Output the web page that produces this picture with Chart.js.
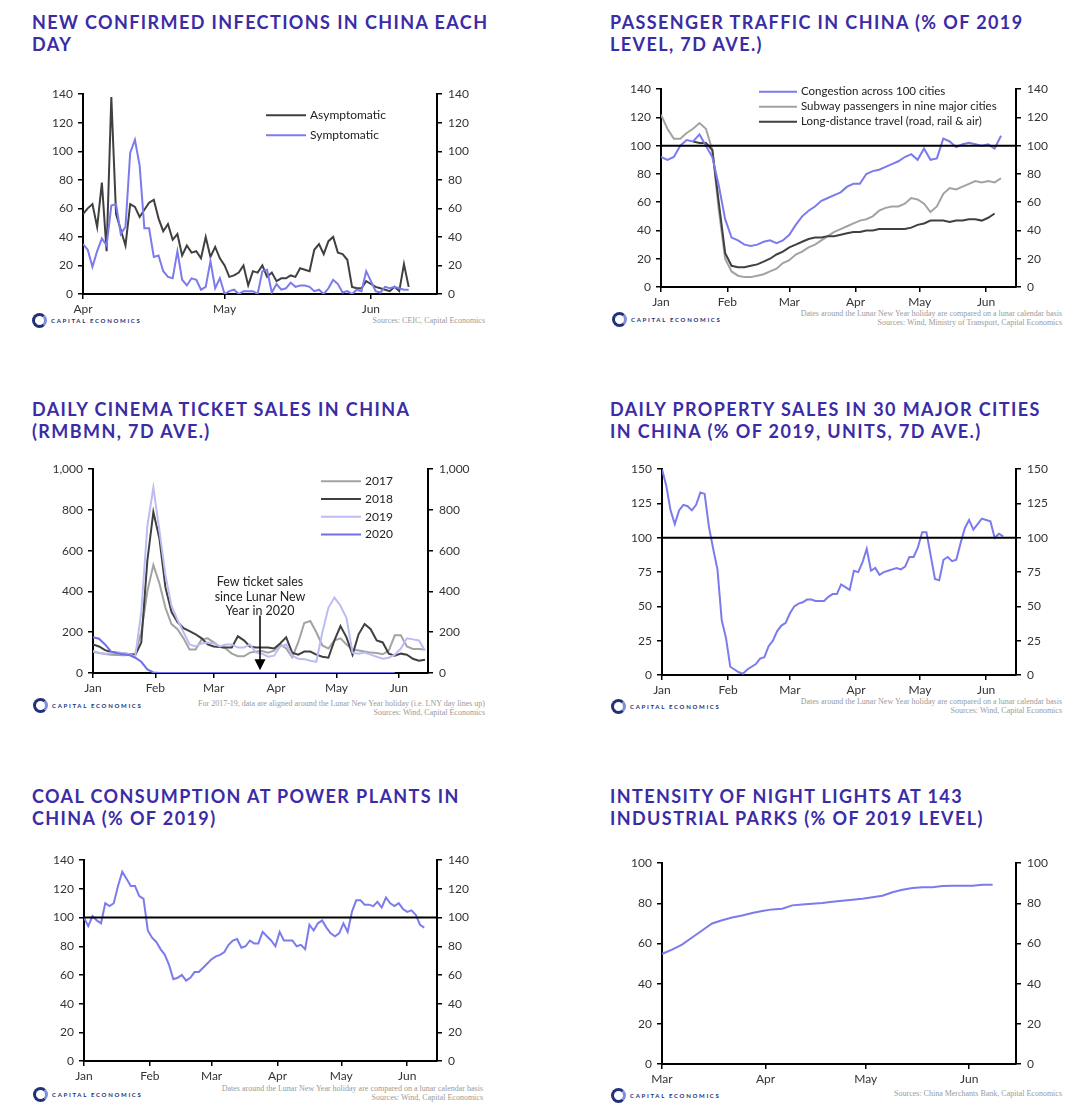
<!DOCTYPE html>
<html>
<head>
<meta charset="utf-8">
<script src="https://cdn.jsdelivr.net/npm/chart.js@4.4.1/dist/chart.umd.min.js"></script>
<style>
  body { margin: 0; background: #fff; }
  #page { position: relative; width: 1074px; height: 1117px; overflow: hidden; font-family: Lato, sans-serif; }
  .title { position: absolute; font-family: Lato, sans-serif; font-weight: 700; font-size: 18px; line-height: 22px;
           letter-spacing: 1.4px; color: #3a2ca6; white-space: nowrap; }
  .note { position: absolute; font-family: "Liberation Serif", serif; font-size: 8px; line-height: 9px;
          color: #9a9a9a; text-align: right; white-space: nowrap; }
  .logo { position: absolute; display: flex; align-items: center; height: 16px; }
  .ring { width: 9px; height: 9px; border: 3px solid #22307a; border-right-color: #7f8fd8; border-radius: 50%; }
  .logo span.txt { font-size: 6px; font-weight: 700; letter-spacing: 1.7px; color: #22307a; margin-left: 4px; }
  canvas { position: absolute; }
</style>
</head>
<body>
<div id="page">
  <div class="title" style="left:32px;top:11px">NEW CONFIRMED INFECTIONS IN CHINA EACH<br>DAY</div>
  <div class="title" style="left:610px;top:11px">PASSENGER TRAFFIC IN CHINA (% OF 2019<br>LEVEL, 7D AVE.)</div>
  <div class="title" style="left:32px;top:398px">DAILY CINEMA TICKET SALES IN CHINA<br>(RMBMN, 7D AVE.)</div>
  <div class="title" style="left:610px;top:398px">DAILY PROPERTY SALES IN 30 MAJOR CITIES<br>IN CHINA (% OF 2019, UNITS, 7D AVE.)</div>
  <div class="title" style="left:32px;top:785px">COAL CONSUMPTION AT POWER PLANTS IN<br>CHINA (% OF 2019)</div>
  <div class="title" style="left:610px;top:785px">INTENSITY OF NIGHT LIGHTS AT 143<br>INDUSTRIAL PARKS (% OF 2019 LEVEL)</div>

  <div class="logo" style="left:32px;top:312px"><div class="ring"></div><span class="txt">CAPITAL ECONOMICS</span></div>
  <div class="logo" style="left:612px;top:311px"><div class="ring"></div><span class="txt">CAPITAL ECONOMICS</span></div>
  <div class="logo" style="left:33px;top:697px"><div class="ring"></div><span class="txt">CAPITAL ECONOMICS</span></div>
  <div class="logo" style="left:611px;top:698px"><div class="ring"></div><span class="txt">CAPITAL ECONOMICS</span></div>
  <div class="logo" style="left:33px;top:1086px"><div class="ring"></div><span class="txt">CAPITAL ECONOMICS</span></div>
  <div class="logo" style="left:611px;top:1087px"><div class="ring"></div><span class="txt">CAPITAL ECONOMICS</span></div>

  <div class="note" style="right:589px;top:316px">Sources: CEIC, Capital Economics</div>
  <div class="note" style="right:12px;top:309px">Dates around the Lunar New Year holiday are compared on a lunar calendar basis<br>Sources: Wind, Ministry of Transport, Capital Economics</div>
  <div class="note" style="right:589px;top:699px">For 2017-19, data are aligned around the Lunar New Year holiday (i.e. LNY day lines up)<br>Sources: Wind, Capital Economics</div>
  <div class="note" style="right:12px;top:697px">Dates around the Lunar New Year holiday are compared on a lunar calendar basis<br>Sources: Wind, Capital Economics</div>
  <div class="note" style="right:591px;top:1084px">Dates around the Lunar New Year holiday are compared on a lunar calendar basis<br>Sources: Wind, Capital Economics</div>
  <div class="note" style="right:12px;top:1089px">Sources: China Merchants Bank, Capital Economics</div>
</div>

<script>
// ---- data ----
// month tick positions (days from first month shown)
const aprMonthStarts = [0, 30, 61];
const aprMonthLabels = ["Apr", "May", "Jun"];
const janMonthStarts = [0, 31, 60, 91, 121, 152];
const janMonthLabels = ["Jan", "Feb", "Mar", "Apr", "May", "Jun"];
const marMonthStarts = [0, 31, 61, 92];
const marMonthLabels = ["Mar", "Apr", "May", "Jun"];

// 1. new infections, daily from 1 Apr
const asymptomatic = [56,60,63,47,78,30,138,56,45,34,63,61,54,59,64,66,53,44,49,38,42,27,34,29,30,25,40,26,33,25,
  20,12,13,15,20,6,16,15,20,12,15,9,11,11,13,12,18,17,16,31,35,28,37,40,29,28,24,5,4,4,9,7,5,4,3,2,5,2,21,5];
const symptomatic = [35,31,19,30,39,34,62,63,42,47,99,108,90,46,46,26,27,16,12,11,30,10,6,11,10,3,5,23,4,11,
  0,2,3,0,2,2,2,0,16,17,1,7,3,4,8,5,6,6,5,2,3,0,4,10,7,1,2,0,3,2,16,9,2,1,5,4,5,4,3,3];

// 2. passenger traffic, every 3 days from 1 Jan
const congestion = [92,90,92,100,104,103,108,100,92,72,48,35,33,30,29,30,32,33,31,33,37,44,50,54,57,61,63,65,67,71,
  73,73,80,82,83,85,87,89,92,94,90,98,90,91,105,103,99,101,102,101,100,101,98,107];
const subway = [122,112,105,105,109,112,116,112,97,55,20,11,8,7,7,8,9,11,13,17,19,23,25,28,30,33,36,39,41,43,
  45,47,48,50,54,56,57,57,59,63,62,59,53,57,66,70,69,71,73,75,74,75,74,77];
const longDistance = [null,null,null,null,null,103,102,102,97,60,24,15,14,14,15,16,18,20,23,25,28,30,32,34,35,35,36,36,37,38,
  39,39,40,40,41,41,41,41,41,42,44,45,47,47,47,46,47,47,48,48,47,49,52,null];

// 3. cinema ticket sales, every 3 days from 1 Jan
const cinema2017 = [105,98,93,90,88,87,88,95,200,400,530,440,320,240,215,170,115,115,165,170,150,130,120,95,82,82,100,105,108,100,
  110,140,120,78,150,245,255,200,135,120,160,170,140,115,110,105,100,98,92,110,185,185,130,118,118,115];
const cinema2018 = [140,130,112,103,100,97,92,88,150,550,790,660,420,300,250,220,205,190,170,140,130,128,125,125,180,160,130,125,125,125,
  120,145,175,100,90,105,105,90,80,75,160,230,175,90,190,240,215,160,150,95,85,95,90,70,60,65];
const cinema2019 = [108,100,95,98,100,98,92,80,300,720,910,700,480,330,260,200,140,130,145,150,145,130,140,140,125,125,140,100,95,80,
  85,130,140,85,70,68,60,55,200,320,370,330,270,100,95,100,90,80,70,75,90,120,170,165,160,110];
const cinema2020 = [175,168,140,105,97,92,88,75,55,18,3,0,0,0,0,0,0,0,0,0,0,0,0,0,0,0,0,0,0,0,
  0,0,0,0,0,0,0,0,0,0,0,0,0,0,0,0,0,0,0,0,0];

// 4. property sales, every 2 days from 1 Jan
const propertySales = [150,138,120,110,120,124,123,120,124,133,132,108,92,77,40,27,6,4,2,1,4,6,8,12,13,21,25,32,36,38,
  45,50,52,53,55,55,54,54,54,57,59,59,66,64,62,76,75,82,92,76,78,73,75,76,77,78,77,79,86,86,
  93,104,104,87,70,69,84,86,83,84,96,107,113,106,110,114,113,112,100,103,101];

// 5. coal consumption, every 2 days from 1 Jan
const coalUse = [100,94,101,98,96,110,108,110,122,132,127,122,122,115,113,91,86,83,78,74,67,57,58,60,56,58,62,62,65,68,
  71,73,74,76,81,84,85,79,80,84,82,82,90,87,84,80,90,84,84,84,80,81,78,95,91,96,98,93,89,87,
  89,96,90,104,112,112,109,109,108,111,107,114,110,108,110,106,104,105,102,95,93];

// 6. night lights, every 3 days from 1 Mar
const nightLights = [54.8,57,59.5,63,66.5,70,71.6,73,74,75.2,76.2,77,77.3,79,79.4,79.8,80.2,80.8,81.3,81.8,
  82.3,83,83.8,85.5,86.8,87.6,88,88,88.7,88.8,88.8,88.8,89.3,89.3];

// ---- colours ----
const BLUE = "#7b7bee";
const DARK = "#404040";
const GREY = "#a3a3a3";
const LAVENDER = "#bcbcf5";

Chart.defaults.font.family = "Lato, sans-serif";
Chart.defaults.animation = false;

function series(values, step) {
  return values.map((v, i) => ({ x: i * step, y: v }));
}

// draws a flat line at a given value across the plot
const refLine = {
  id: "refLine",
  afterDatasetsDraw(chart, args, opts) {
    if (opts.value === undefined) return;
    const { ctx, chartArea } = chart;
    const y = chart.scales.y.getPixelForValue(opts.value);
    ctx.save();
    ctx.strokeStyle = "#000";
    ctx.lineWidth = 2;
    ctx.beginPath();
    ctx.moveTo(chartArea.left, y);
    ctx.lineTo(chartArea.right, y);
    ctx.stroke();
    ctx.restore();
  }
};

// legend drawn inside the plot area
const innerLegend = {
  id: "innerLegend",
  afterDraw(chart, args, opts) {
    if (!opts.show) return;
    const { ctx, chartArea } = chart;
    ctx.save();
    ctx.font = opts.font;
    ctx.textBaseline = "middle";
    chart.data.datasets.forEach((ds, i) => {
      const x = chartArea.left + opts.x;
      const y = chartArea.top + opts.y + i * opts.gap;
      ctx.strokeStyle = ds.borderColor;
      ctx.lineWidth = 2;
      ctx.beginPath();
      ctx.moveTo(x, y);
      ctx.lineTo(x + opts.len, y);
      ctx.stroke();
      ctx.fillStyle = "#222";
      ctx.fillText(ds.label, x + opts.len + 4, y);
    });
    ctx.restore();
  }
};

// text with a down arrow (cinema chart)
const arrowNote = {
  id: "arrowNote",
  afterDraw(chart, args, opts) {
    if (!opts.lines) return;
    const { ctx } = chart;
    const x = chart.scales.x.getPixelForValue(opts.x);
    const yTop = chart.scales.y.getPixelForValue(opts.from);
    const yTip = chart.scales.y.getPixelForValue(opts.to);
    ctx.save();
    ctx.font = "12.5px Lato, sans-serif";
    ctx.fillStyle = "#222";
    ctx.textAlign = "center";
    ctx.textBaseline = "middle";
    opts.lines.forEach((t, i) => ctx.fillText(t, x, chart.scales.y.getPixelForValue(opts.textAt[i])));
    ctx.strokeStyle = "#000";
    ctx.lineWidth = 1.5;
    ctx.beginPath();
    ctx.moveTo(x, yTop);
    ctx.lineTo(x, yTip - 8);
    ctx.stroke();
    ctx.fillStyle = "#000";
    ctx.beginPath();
    ctx.moveTo(x - 5.5, yTip - 11);
    ctx.lineTo(x + 5.5, yTip - 11);
    ctx.lineTo(x, yTip);
    ctx.closePath();
    ctx.fill();
    ctx.restore();
  }
};

Chart.register(refLine, innerLegend, arrowNote);

function yAxis(position, max, step, pad) {
  return {
    position: position,
    min: 0,
    max: max,
    ticks: {
      stepSize: step,
      color: "#333",
      font: { size: 12 },
      padding: pad,
      callback: (v) => v.toLocaleString("en-US")
    },
    grid: { drawOnChartArea: false, drawTicks: true, tickLength: 5, color: "#000", lineWidth: 1.5 },
    border: { display: true, color: "#000", width: 2 },
    afterFit: (scale) => { scale.width = 50; }
  };
}

function makePanel(area, xMax, months, monthLabels, yMax, yStep, datasets, plugins) {
  const padL = 50, padR = 50, padT = 12, padB = 26;
  const canvas = document.createElement("canvas");
  const w = area.r - area.l + padL + padR;
  const h = area.b - area.t + padT + padB;
  canvas.width = w;
  canvas.height = h;
  canvas.style.left = (area.l - padL) + "px";
  canvas.style.top = (area.t - padT) + "px";
  canvas.style.width = w + "px";
  canvas.style.height = h + "px";
  document.getElementById("page").appendChild(canvas);

  new Chart(canvas.getContext("2d"), {
    type: "line",
    data: { datasets: datasets },
    options: {
      responsive: false,
      devicePixelRatio: 1,
      layout: { padding: { top: padT, left: 0, right: 0, bottom: 0 } },
      elements: { point: { radius: 0 }, line: { borderWidth: 2, tension: 0 } },
      scales: {
        x: {
          type: "linear",
          min: 0,
          max: xMax,
          afterBuildTicks: (scale) => { scale.ticks = months.map((v) => ({ value: v })); },
          ticks: {
            autoSkip: false,
            maxRotation: 0,
            color: "#333",
            font: { size: 12 },
            padding: 3,
            callback: (v, i) => monthLabels[i]
          },
          grid: { drawOnChartArea: false, drawTicks: true, tickLength: 5, color: "#000", lineWidth: 1.5 },
          border: { display: true, color: "#000", width: 2 },
          afterFit: (scale) => { scale.height = padB; }
        },
        y: yAxis("left", yMax, yStep, 5),
        yR: yAxis("right", yMax, yStep, 6)
      },
      plugins: Object.assign({ legend: { display: false }, tooltip: { enabled: false } }, plugins)
    }
  });
}

function line(label, data, color, order) {
  return { label: label, data: data, borderColor: color, backgroundColor: color, fill: false, order: order, spanGaps: false };
}

// 1. infections
makePanel({ l: 83, t: 93, r: 437, b: 294 }, 75, aprMonthStarts, aprMonthLabels, 140, 20, [
  line("Asymptomatic", series(asymptomatic, 1), DARK, 2),
  line("Symptomatic", series(symptomatic, 1), BLUE, 1)
], { innerLegend: { show: true, x: 183, y: 21, gap: 20, len: 40, font: "12px Lato, sans-serif" } });

// 2. passenger traffic
makePanel({ l: 661, t: 88, r: 1016, b: 287 }, 166, janMonthStarts, janMonthLabels, 140, 20, [
  line("Congestion across 100 cities", series(congestion, 3), BLUE, 1),
  line("Subway passengers in nine major cities", series(subway, 3), GREY, 3),
  line("Long-distance travel (road, rail & air)", series(longDistance, 3), DARK, 2)
], { refLine: { value: 100 }, innerLegend: { show: true, x: 98, y: 2.5, gap: 15, len: 38, font: "11.5px Lato, sans-serif" } });

// 3. cinema tickets
makePanel({ l: 93, t: 468, r: 428, b: 673 }, 166.5, janMonthStarts, janMonthLabels, 1000, 200, [
  line("2017", series(cinema2017, 3), GREY, 4),
  line("2018", series(cinema2018, 3), DARK, 3),
  line("2019", series(cinema2019, 3), LAVENDER, 2),
  line("2020", series(cinema2020, 3), "#6f6fe8", 1)
], {
  innerLegend: { show: true, x: 228, y: 12, gap: 17.8, len: 40, font: "12px Lato, sans-serif" },
  arrowNote: { x: 83, lines: ["Few ticket sales", "since Lunar New", "Year in 2020"], textAt: [445, 372, 302], from: 282, to: 14 }
});

// 4. property sales
makePanel({ l: 662, t: 468, r: 1016, b: 675 }, 166, janMonthStarts, janMonthLabels, 150, 25, [
  line("Property sales", series(propertySales, 2), BLUE, 1)
], { refLine: { value: 100 } });

// 5. coal
makePanel({ l: 84, t: 859, r: 437, b: 1061 }, 166, janMonthStarts, janMonthLabels, 140, 20, [
  line("Coal consumption", series(coalUse, 2), BLUE, 1)
], { refLine: { value: 100 } });

// 6. night lights
makePanel({ l: 662, t: 862, r: 1016, b: 1064 }, 106, marMonthStarts, marMonthLabels, 100, 20, [
  line("Night lights", series(nightLights, 3), BLUE, 1)
], {});
</script>
</body>
</html>
